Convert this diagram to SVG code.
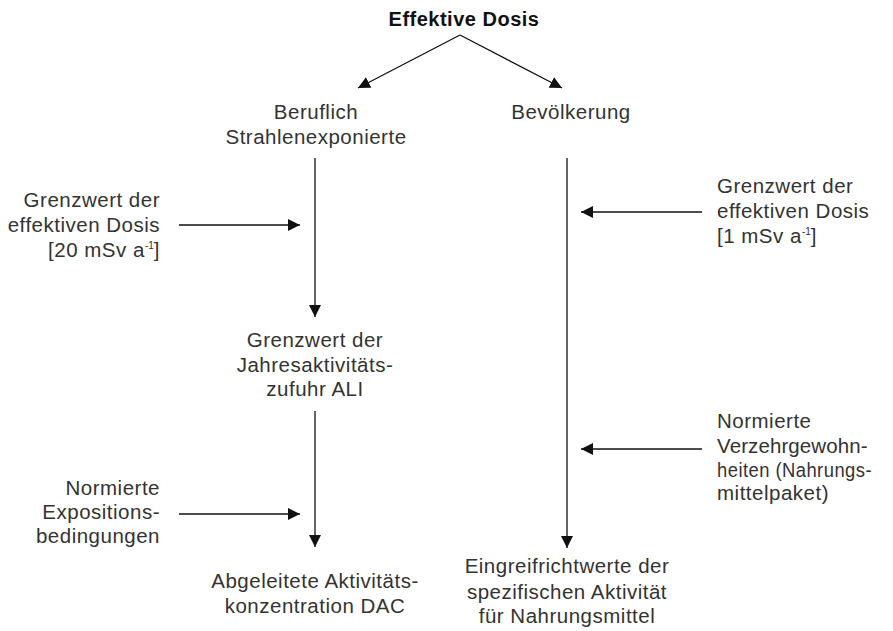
<svg xmlns="http://www.w3.org/2000/svg" width="893" height="631" viewBox="0 0 893 631">
  <style>
    text { font-family: "Liberation Sans", Arial, sans-serif; font-size: 20.5px; letter-spacing: 0.5px; fill: #333; }
    .title { font-weight: bold; font-size: 20px; fill: #111; }
    .mid { text-anchor: middle; }
    .end { text-anchor: end; }
    .sup { font-size: 10px; letter-spacing: 0; }
    .conn { stroke: #111; stroke-width: 1.3; fill: none; marker-end: url(#head); }
  </style>
  <defs>
    <marker id="head" viewBox="0 0 12 12" refX="12" refY="6" markerWidth="12" markerHeight="12" markerUnits="userSpaceOnUse" orient="auto">
      <path d="M0,0 L12,6 L0,12 Z" fill="#111"/>
    </marker>
  </defs>

  <g id="connectors">
    <line class="conn" x1="460" y1="35" x2="358" y2="88"/>
    <line class="conn" x1="460" y1="35" x2="562" y2="88"/>
    <line class="conn" x1="315" y1="158" x2="315" y2="317"/>
    <line class="conn" x1="315" y1="411" x2="315" y2="547"/>
    <line class="conn" x1="567" y1="158" x2="567" y2="548"/>
    <line class="conn" x1="179" y1="225" x2="300" y2="225"/>
    <line class="conn" x1="179" y1="514" x2="300" y2="514"/>
    <line class="conn" x1="702" y1="212" x2="581" y2="212"/>
    <line class="conn" x1="702" y1="449" x2="581" y2="449"/>
  </g>

  <g id="effektive-dosis">
    <text class="title mid" x="464" y="26">Effektive Dosis</text>
  </g>
  <g id="beruflich">
    <text class="mid" x="316" y="119">Beruflich</text>
    <text class="mid" x="316" y="144">Strahlenexponierte</text>
  </g>
  <g id="bevoelkerung">
    <text class="mid" x="571" y="119">Bevölkerung</text>
  </g>
  <g id="grenzwert-20">
    <text class="end" x="160" y="207">Grenzwert der</text>
    <text class="end" x="160" y="232">effektiven Dosis</text>
    <text class="end" x="160" y="257">[20 mSv a<tspan class="sup" dy="-8">-1</tspan><tspan dy="8">]</tspan></text>
  </g>
  <g id="grenzwert-1">
    <text x="717" y="193">Grenzwert der</text>
    <text x="717" y="218">effektiven Dosis</text>
    <text x="717" y="243">[1 mSv a<tspan class="sup" dy="-8">-1</tspan><tspan dy="8">]</tspan></text>
  </g>
  <g id="ali">
    <text class="mid" x="315" y="347">Grenzwert der</text>
    <text class="mid" x="315" y="372">Jahresaktivitäts-</text>
    <text class="mid" x="315" y="396">zufuhr ALI</text>
  </g>
  <g id="expositionsbedingungen">
    <text class="end" x="160" y="495">Normierte</text>
    <text class="end" x="160" y="519">Expositions-</text>
    <text class="end" x="160" y="543">bedingungen</text>
  </g>
  <g id="verzehrgewohnheiten">
    <text x="717" y="428">Normierte</text>
    <text x="717" y="453" textLength="151" lengthAdjust="spacing">Verzehrgewohn-</text>
    <text x="717" y="477" textLength="155" lengthAdjust="spacingAndGlyphs">heiten (Nahrungs-</text>
    <text x="717" y="500">mittelpaket)</text>
  </g>
  <g id="dac">
    <text class="mid" x="315" y="588">Abgeleitete Aktivitäts-</text>
    <text class="mid" x="315" y="613">konzentration DAC</text>
  </g>
  <g id="eingreifrichtwerte">
    <text class="mid" x="567" y="573">Eingreifrichtwerte der</text>
    <text class="mid" x="567" y="599">spezifischen Aktivität</text>
    <text class="mid" x="567" y="623">für Nahrungsmittel</text>
  </g>
</svg>
